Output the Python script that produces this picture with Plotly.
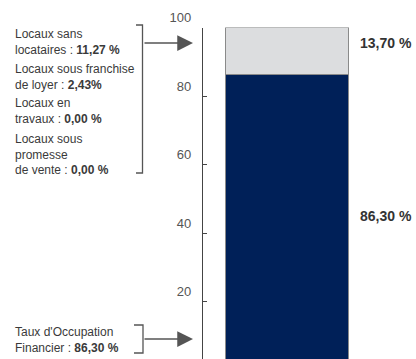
import plotly.graph_objects as go

# ---- data ----
occupied = [86.30]
vacant = [13.70]
occupied_label = "86,30 %"
vacant_label = "13,70 %"
detail_names = ["Locaux sans<br>locataires", "Locaux sous franchise<br>de loyer",
                "Locaux en<br>travaux", "Locaux sous<br>promesse<br>de vente"]
detail_values = ["11,27 %", "2,43%", "0,00 %", "0,00 %"]
tof_name = "Taux d'Occupation<br>Financier"
tof_value = "86,30 %"
tick_vals = [20, 40, 60, 80, 100]
tick_text = ["20", "40", "60", "80", "100"]

W, H = 416, 359
def px(x):
    return x / W
def py(y):
    return 1 - y / H

NAVY = "#002058"
LIGHT = "#dcdddf"
LINE = "#555555"
TXT = "#3a3a3a"
FONT = "Liberation Sans, Arial, sans-serif"

fig = go.Figure()
fig.add_trace(go.Bar(x=[0], y=occupied, width=1, marker=dict(color=NAVY, line=dict(color="#8a8a8a", width=1)),
                     showlegend=False, hoverinfo="skip"))
fig.add_trace(go.Bar(x=[0], y=vacant, width=1, marker=dict(color=LIGHT, line=dict(color="#8a8a8a", width=1)),
                     showlegend=False, hoverinfo="skip"))

top_pix = 27.5
scale = 3.43
y_bottom = 100 - (H - top_pix) / scale

annotations = []
# value labels right of bar
annotations.append(dict(x=px(358), xref="paper", xanchor="left", y=100 - vacant[0] / 2, yref="y", yshift=8,
                        text="<b>" + vacant_label + "</b>", showarrow=False,
                        font=dict(size=14, color="#333333", family=FONT)))
annotations.append(dict(x=px(358), xref="paper", xanchor="left", y=occupied[0] / 2, yref="y", yshift=6,
                        text="<b>" + occupied_label + "</b>", showarrow=False,
                        font=dict(size=14, color="#333333", family=FONT)))

# left detail text
centers = [41.5, 77, 111.5, 154]
for name, val, c in zip(detail_names, detail_values, centers):
    annotations.append(dict(x=px(13), xref="paper", xanchor="left", y=py(c), yref="paper", yanchor="middle",
                            text=name + " : <b>" + val + "</b>", align="left", showarrow=False,
                            font=dict(size=12, color=TXT, family=FONT)))
annotations.append(dict(x=px(13), xref="paper", xanchor="left", y=py(339.5), yref="paper", yanchor="middle",
                        text=tof_name + " : <b>" + tof_value + "</b>", align="left", showarrow=False,
                        font=dict(size=12, color=TXT, family=FONT)))

# arrows
for yy in [43, 339]:
    annotations.append(dict(x=px(193), y=py(yy), xref="paper", yref="paper", ax=-50, ay=0,
                            axref="pixel", ayref="pixel", text="", showarrow=True,
                            arrowhead=2, arrowsize=2.1, arrowwidth=1.5, arrowcolor=LINE))

# partial "0" tick label at bottom (cut off by the frame, as in the reference)
annotations.append(dict(x=px(190), xref="paper", xanchor="right", y=py(364), yref="paper", yanchor="middle",
                        text="0", showarrow=False, font=dict(size=13, color="#555555", family=FONT)))

shapes = [
    dict(type="path", xref="paper", yref="paper",
         path=f"M {px(136)},{py(25)} L {px(142.5)},{py(25)} L {px(142.5)},{py(173)} L {px(136)},{py(173)}",
         line=dict(color=LINE, width=1.3)),
    dict(type="path", xref="paper", yref="paper",
         path=f"M {px(134)},{py(325)} L {px(143)},{py(325)} L {px(143)},{py(353)} L {px(134)},{py(353)}",
         line=dict(color=LINE, width=1.3)),
]

axis_px = 203
bar_l, bar_r = 226, 349
bw = bar_r - bar_l
center = (bar_l + bar_r) / 2
x_left = -(center - axis_px) / bw
x_right = (W - center) / bw

fig.update_layout(
    width=W, height=H, margin=dict(l=0, r=0, t=0, b=0, autoexpand=False),
    paper_bgcolor="white", plot_bgcolor="white",
    barmode="stack", bargap=0,
    font=dict(family=FONT),
    xaxis=dict(domain=[px(axis_px), 1], range=[x_left, x_right], visible=False, fixedrange=True, automargin=False),
    yaxis=dict(domain=[0, py(top_pix)], range=[y_bottom, 100], showline=True, linecolor="#444444", linewidth=1.3,
               ticks="inside", ticklen=4, tickcolor="#444444", tickwidth=1.3,
               tickvals=tick_vals, ticktext=tick_text, showgrid=False, zeroline=False,
               tickfont=dict(size=13, color="#555555", family=FONT),
               ticklabelshift=-10, ticklabelstandoff=8, automargin=False),
    annotations=annotations, shapes=shapes,
)

fig.write_html("out.html")
